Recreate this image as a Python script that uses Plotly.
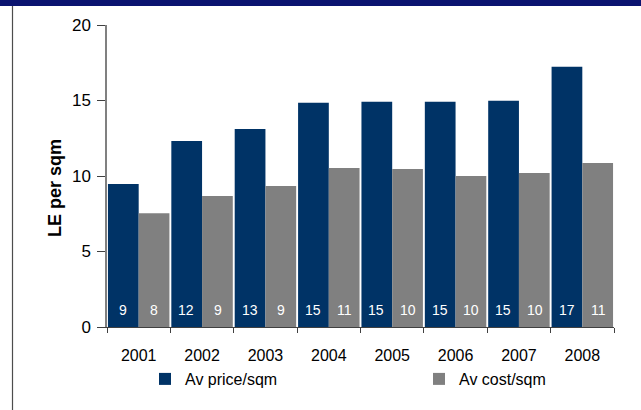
import plotly.graph_objects as go

years = ["2001", "2002", "2003", "2004", "2005", "2006", "2007", "2008"]
price_per_sqm = [9.47, 12.32, 13.12, 14.85, 14.91, 14.91, 14.98, 17.24]
cost_per_sqm = [7.54, 8.67, 9.34, 10.53, 10.47, 10.0, 10.2, 10.86]
y_ticks = [0, 5, 10, 15, 20]

NAVY = "#003366"
GREY = "#808080"
FONT = "Liberation Sans, Arial, sans-serif"

plot_l, plot_r, plot_t, plot_b = 107, 27, 25, 83
plot_w = 641 - plot_l - plot_r
plot_h = 410 - plot_t - plot_b


def px_x(px):
    return (px - plot_l) / plot_w


def px_y(py):
    return 1 - (py - plot_t) / plot_h


fig = go.Figure()
fig.add_trace(go.Bar(x=years, y=price_per_sqm, name="Av price/sqm", legend="legend",
                     marker=dict(color=NAVY, line=dict(width=0))))
fig.add_trace(go.Bar(x=years, y=cost_per_sqm, name="Av cost/sqm", legend="legend2",
                     marker=dict(color=GREY, line=dict(width=0))))

# Rounded value labels near the base of each bar
annotations = []
for i in range(len(years)):
    for vals, shift in ((price_per_sqm, -15.8), (cost_per_sqm, 15.8)):
        annotations.append(dict(
            x=i, y=0, xref="x", yref="y", xshift=shift, yshift=17,
            text=f"{vals[i]:.0f}", showarrow=False,
            font=dict(family=FONT, size=14, color="#ffffff"),
            xanchor="center", yanchor="middle"))

# Y-axis title
annotations.append(dict(
    x=px_x(55), y=px_y(188), xref="paper", yref="paper",
    text="<b>LE per sqm</b>", textangle=-90, showarrow=False,
    font=dict(family=FONT, size=18, color="#000000"),
    xanchor="center", yanchor="middle"))

shapes = [
    # navy band across the top of the page
    dict(type="rect", xref="paper", yref="paper",
         x0=px_x(0), x1=px_x(641), y0=px_y(6), y1=px_y(0),
         fillcolor="#0b1470", line=dict(width=0), layer="above"),
    # thin frame line down the left side
    dict(type="line", xref="paper", yref="paper",
         x0=px_x(12.5), x1=px_x(12.5), y0=px_y(410), y1=px_y(6),
         line=dict(color="#4d4d4d", width=1.2)),
]

legend_style = dict(orientation="h", yanchor="middle", y=px_y(379), xanchor="left",
                    font=dict(family=FONT, size=16, color="#000000"),
                    bgcolor="rgba(0,0,0,0)", itemclick=False, itemdoubleclick=False)

fig.update_layout(
    width=641, height=410,
    margin=dict(l=plot_l, r=plot_r, t=plot_t, b=plot_b),
    paper_bgcolor="white", plot_bgcolor="white",
    barmode="group", bargap=0.03, bargroupgap=0,
    font=dict(family=FONT, size=16, color="#000000"),
    showlegend=True,
    legend=dict(x=px_x(145), **legend_style),
    legend2=dict(x=px_x(419), **legend_style),
    annotations=annotations,
    shapes=shapes,
)
fig.update_xaxes(
    type="category", range=[-0.5, len(years) - 0.5], showgrid=False,
    showline=True, linecolor="#404040", linewidth=1,
    ticks="outside", tickson="boundaries", ticklen=5, tickcolor="#404040",
    ticklabelstandoff=14,
    tickfont=dict(family=FONT, size=16, color="#000000"),
)
fig.update_yaxes(
    range=[0, 20], tickvals=y_ticks, showgrid=False, zeroline=False,
    showline=True, linecolor="#808080", linewidth=1.5,
    ticks="outside", ticklen=8, tickcolor="#404040",
    ticklabelstandoff=3,
    tickfont=dict(family=FONT, size=17, color="#000000"),
)

fig.write_html("out.html")
